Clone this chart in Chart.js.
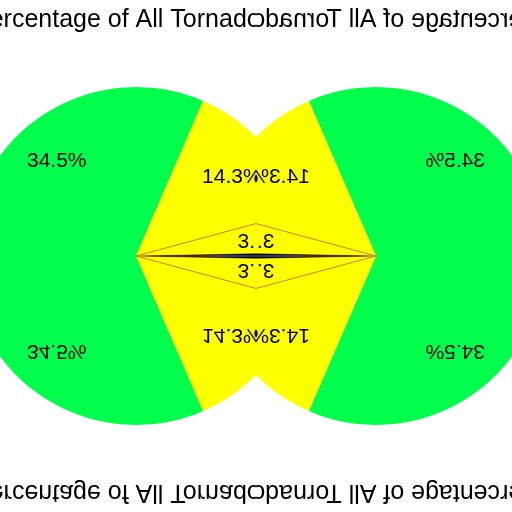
<!DOCTYPE html>
<html>
<head>
<meta charset="utf-8">
<script src="https://cdn.jsdelivr.net/npm/chart.js@4.4.0/dist/chart.umd.min.js"></script>
<style>
  html, body { margin: 0; padding: 0; background: #fff; }
  #stage { position: relative; width: 512px; height: 512px; overflow: hidden; }
  .quad { position: absolute; width: 256px; height: 256px; overflow: hidden; }
  .quad canvas { position: absolute; left: -100px; top: 0; }
  #q1 { left: 0; top: 0; }
  #q2 { left: 256px; top: 0; transform: scaleX(-1); }
  #q3 { left: 0; top: 256px; transform: scaleY(-1); }
  #q4 { left: 256px; top: 256px; transform: scale(-1, -1); }
</style>
</head>
<body>
<div id="stage">
  <div class="quad" id="q1"><canvas width="600" height="600"></canvas></div>
  <div class="quad" id="q2"><canvas width="600" height="600"></canvas></div>
  <div class="quad" id="q3"><canvas width="600" height="600"></canvas></div>
  <div class="quad" id="q4"><canvas width="600" height="600"></canvas></div>
</div>
<script>
// Data
const categories = ['F0', 'F1', 'F2', 'F3', 'F4', 'F5'];
const percentages = [47.0, 34.5, 14.3, 3.9, 0.2, 0.1];
const sliceColors = ['#ff0000', '#00ff4c', '#ffff00', '#ffff00', '#000000', '#000000'];
const sliceBorders = ['#ffffff', '#ffffff', '#ffffff', '#c8820a', '#000000', '#000000'];
const sliceBorderWidths = [0, 0, 0, 1, 0, 0];
const titleText = 'Percentage of All Tornadoes';

// percentage text inside the bigger slices
const sliceLabels = {
  id: 'sliceLabels',
  afterDatasetsDraw(chart) {
    const ctx = chart.ctx;
    const meta = chart.getDatasetMeta(0);
    ctx.save();
    ctx.font = '21px "Liberation Sans", Arial, sans-serif';
    ctx.fillStyle = '#000';
    ctx.textAlign = 'center';
    ctx.textBaseline = 'middle';
    meta.data.forEach(function(arc, i) {
      if (percentages[i] < 1) return;
      const p = arc.getProps(['x', 'y', 'startAngle', 'endAngle', 'outerRadius'], true);
      const mid = (p.startAngle + p.endAngle) / 2;
      const r = p.outerRadius * 0.75;
      ctx.fillText(percentages[i].toFixed(1) + '%', p.x + Math.cos(mid) * r, p.y + Math.sin(mid) * r + 4);
    });
    ctx.restore();
  }
};

function makeChart(canvas) {
  return new Chart(canvas.getContext('2d'), {
    type: 'pie',
    data: {
      labels: categories,
      datasets: [{
        data: percentages,
        backgroundColor: sliceColors,
        borderColor: sliceBorders,
        borderWidth: sliceBorderWidths,
        radius: 169,
        clip: false
      }]
    },
    options: {
      responsive: false,
      animation: false,
      events: [],
      rotation: 90,
      layout: {
        padding: { left: 73, right: 201, top: 0, bottom: 123 }
      },
      plugins: {
        legend: { display: false },
        tooltip: { enabled: false },
        title: {
          display: true,
          text: titleText,
          align: 'start',
          color: '#000',
          font: { family: '"Liberation Sans", Arial, sans-serif', size: 25, weight: 'normal' },
          padding: { top: 5, bottom: 0 }
        }
      }
    },
    plugins: [sliceLabels]
  });
}

document.querySelectorAll('.quad canvas').forEach(makeChart);
</script>
</body>
</html>
